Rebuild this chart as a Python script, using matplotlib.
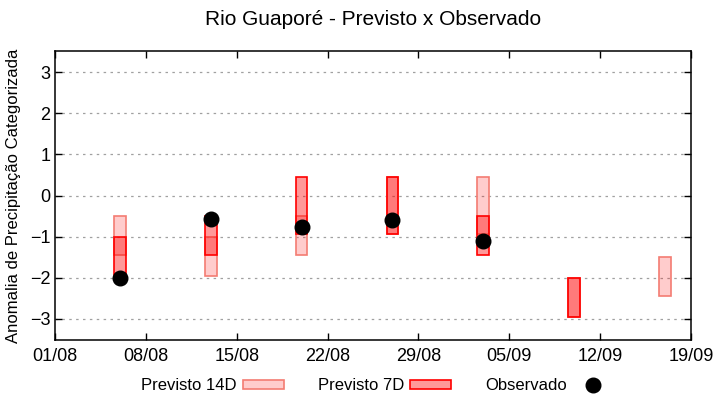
import datetime as dt
import numpy as np
import matplotlib
matplotlib.use('Agg')
import matplotlib.pyplot as plt
import matplotlib.dates as mdates
from matplotlib.patches import Patch
from matplotlib.lines import Line2D

# forecast weeks (centre date of each box)
dates = ['2023-08-06', '2023-08-13', '2023-08-20', '2023-08-27',
         '2023-09-03', '2023-09-10', '2023-09-17']
prev14_top = [-0.5, -1.0, -0.5, 0.45, 0.45, -2.0, -1.5]
prev14_bot = [-1.45, -1.95, -1.45, -0.95, -0.95, -2.95, -2.45]
prev7_top = [-1.0, -0.5, 0.45, 0.45, -0.5, -2.0, np.nan]
prev7_bot = [-1.95, -1.45, -0.95, -0.95, -1.45, -2.95, np.nan]
observado = [-2.0, -0.57, -0.77, -0.6, -1.1, np.nan, np.nan]

xtick_dates = ['2023-08-01', '2023-08-08', '2023-08-15', '2023-08-22',
               '2023-08-29', '2023-09-05', '2023-09-12', '2023-09-19']
yticks = [-3, -2, -1, 0, 1, 2, 3]

plt.rcParams['font.family'] = ['Liberation Sans', 'DejaVu Sans']

x = mdates.date2num([dt.datetime.strptime(d, '%Y-%m-%d') for d in dates])
xt = mdates.date2num([dt.datetime.strptime(d, '%Y-%m-%d') for d in xtick_dates])

fig = plt.figure(figsize=(7.2, 4.0), dpi=100)
ax = fig.add_axes([0.0764, 0.15, 0.8833, 0.7225])

c14 = (1, 0, 0, 0.2)
c7 = (1, 0, 0, 0.4)
edge14 = '#f47c72'
edge7 = '#ff0000'
width = 0.9

ax.bar(x, np.array(prev14_top) - np.array(prev14_bot), bottom=prev14_bot, width=width,
       color=c14, edgecolor=edge14, linewidth=1.2, zorder=3)
ax.bar(x, np.array(prev7_top) - np.array(prev7_bot), bottom=prev7_bot, width=width,
       color=c7, edgecolor=edge7, linewidth=1.2, zorder=4)
ax.plot(x, observado, 'o', color='black', markersize=10.5, zorder=5, linestyle='none')

ax.set_xlim(xt[0], xt[-1])
ax.set_ylim(-3.52, 3.52)
ax.set_xticks(xt)
ax.xaxis.set_major_formatter(mdates.DateFormatter('%d/%m'))
ax.set_yticks(yticks)
ax.yaxis.grid(True, color='#a0a0a0', linestyle=(0, (2, 3.5)), linewidth=0.9, zorder=0)
ax.tick_params(direction='in', length=5, top=True, right=True, width=1)
for lab in ax.get_xticklabels() + ax.get_yticklabels():
    lab.set_family(['Liberation Sans Narrow', 'Liberation Sans'])
    lab.set_fontsize(13)
ax.tick_params(axis='x', pad=6)
for s in ax.spines.values():
    s.set_linewidth(1.1)

ax.set_ylabel('Anomalia de Precipitação Categorizada', fontsize=12, labelpad=6)
fig.suptitle('Rio Guaporé - Previsto x Observado', x=0.518, y=0.975, fontsize=15)

handles = [Patch(facecolor=c14, edgecolor=edge14, linewidth=1.2),
           Patch(facecolor=c7, edgecolor=edge7, linewidth=1.2),
           Line2D([], [], marker='o', color='black', linestyle='none', markersize=10.5)]
fig.legend(handles, ['Previsto 14D', 'Previsto 7D', 'Observado'],
           loc='center', bbox_to_anchor=(0.524, 0.035), ncol=3, frameon=False,
           markerfirst=False, fontsize=12, handlelength=2.45, handleheight=0.45,
           handletextpad=0.35, columnspacing=2.05)

fig.savefig('out.png', dpi=100)
